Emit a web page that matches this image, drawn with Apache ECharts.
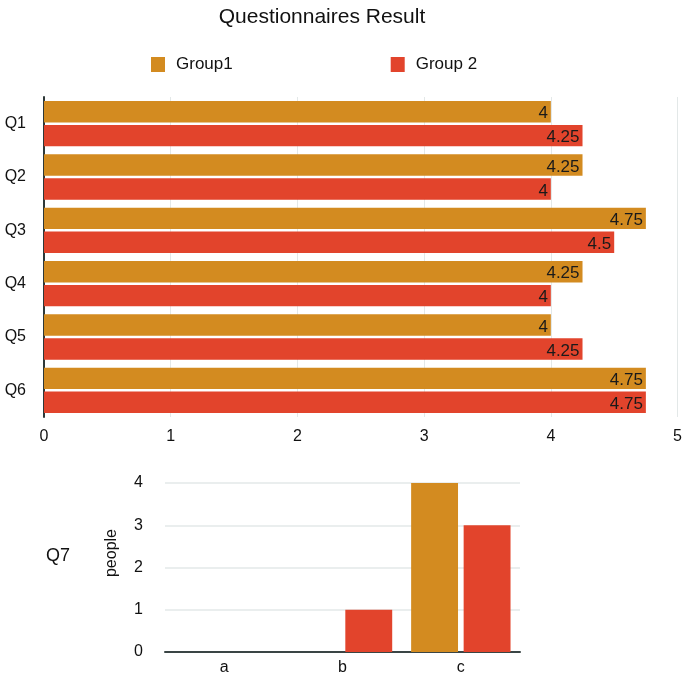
<!DOCTYPE html>
<html><head><meta charset="utf-8">
<script src="https://cdn.jsdelivr.net/npm/echarts@6/dist/echarts.min.js"></script>
<style>html,body{margin:0;padding:0;background:#fff}#c{width:685px;height:677px}</style>
</head><body><div id="c"></div>
<script>
const questions = ['Q1','Q2','Q3','Q4','Q5','Q6'];
const group1 = [4, 4.25, 4.75, 4.25, 4, 4.75];
const group2 = [4.25, 4, 4.5, 4, 4.25, 4.75];
const q7Categories = ['a','b','c'];
const q7Group1 = [0, 0, 4];
const q7Group2 = [0, 1, 3];
const xTicks = [0,1,2,3,4,5];
const yTicksQ7 = [0,1,2,3,4];

const FONT = '"Liberation Sans", Arial, sans-serif';
const C1 = '#D38B20', C2 = '#E2442C';
const chart = echarts.init(document.getElementById('c'));
const lbl = {show:true, position:'insideRight', color:'#1a1a1a', fontSize:17, fontFamily:FONT, distance:3, offset:[0,2]};
chart.setOption({
  animation:false,
  textStyle:{fontFamily:FONT},
  title:[
    {text:'Questionnaires Result', left:317, top:2, textAlign:'center',
     textStyle:{fontSize:21, fontWeight:'normal', color:'#111', fontFamily:FONT}},
    {text:'Q7', left:41, top:542, textStyle:{fontSize:18, fontWeight:'normal', color:'#111', fontFamily:FONT}}
  ],
  graphic:[
    {type:'text', x:112, y:553, rotation:Math.PI/2,
     style:{text:'people', fontSize:16, fill:'#111', fontFamily:FONT, align:'center', verticalAlign:'middle'}}
  ],
  legend:{top:56, left:151, padding:0, itemWidth:14, itemHeight:15, itemGap:158, icon:'rect',
    textStyle:{fontSize:17, color:'#111', fontFamily:FONT, padding:[0,0,0,6]},
    data:['Group1','Group 2']},
  grid:[
    {left:44, top:97, width:635, height:320},
    {left:165, top:483, width:355, height:169}
  ],
  xAxis:[
    {type:'value', gridIndex:0, min:0, max:5, interval:1,
     axisLine:{show:false}, axisTick:{show:false},
     splitLine:{lineStyle:{color:'#e3e8e8'}},
     axisLabel:{fontSize:16, color:'#111', margin:12, fontFamily:FONT,
       formatter:v=>xTicks.includes(v)?String(v):''}},
    {type:'category', gridIndex:1, data:q7Categories,
     axisLine:{lineStyle:{color:'#3a4545', width:2}}, axisTick:{show:false},
     axisLabel:{fontSize:16, color:'#111', margin:8, fontFamily:FONT}}
  ],
  yAxis:[
    {type:'category', gridIndex:0, data:questions, inverse:true,
     axisLine:{lineStyle:{color:'#2e3838', width:2}}, axisTick:{show:false},
     axisLabel:{fontSize:16, color:'#111', margin:18, fontFamily:FONT}},
    {type:'value', gridIndex:1, min:0, max:4, interval:1,
     axisLine:{show:false}, axisTick:{show:false},
     splitLine:{lineStyle:{color:'#e3e8e8', width:1.5}},
     axisLabel:{fontSize:16, color:'#111', margin:22, fontFamily:FONT,
       formatter:v=>yTicksQ7.includes(v)?String(v):''}}
  ],
  series:[
    {name:'Group1', type:'bar', xAxisIndex:0, yAxisIndex:0, data:group1, color:C1,
     barCategoryGap:'15%', barGap:'12%', label:lbl},
    {name:'Group 2', type:'bar', xAxisIndex:0, yAxisIndex:0, data:group2, color:C2,
     barCategoryGap:'15%', barGap:'12%', label:lbl},
    {name:'Group1', type:'bar', xAxisIndex:1, yAxisIndex:1, data:q7Group1, color:C1,
     barCategoryGap:'16%', barGap:'12%'},
    {name:'Group 2', type:'bar', xAxisIndex:1, yAxisIndex:1, data:q7Group2, color:C2,
     barCategoryGap:'16%', barGap:'12%'}
  ]
});
</script></body></html>
